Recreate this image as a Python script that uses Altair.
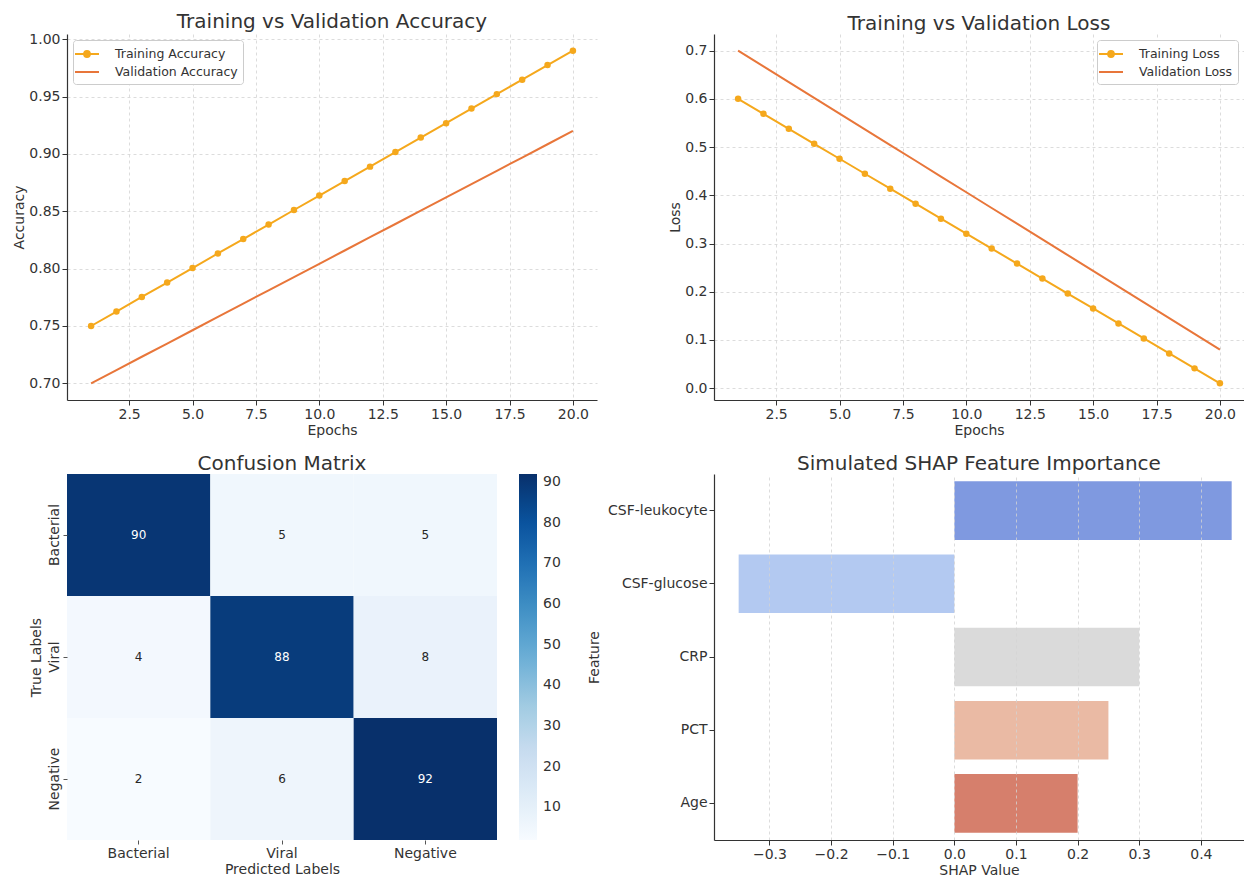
import altair as alt
import pandas as pd

# ---------------- data ----------------
epochs = list(range(1, 21))
train_acc = [0.7500, 0.7626, 0.7753, 0.7879, 0.8005, 0.8132, 0.8258, 0.8384, 0.8511, 0.8637,
             0.8763, 0.8889, 0.9016, 0.9142, 0.9268, 0.9395, 0.9521, 0.9647, 0.9774, 0.9900]
val_acc = [0.7000, 0.7116, 0.7232, 0.7347, 0.7463, 0.7579, 0.7695, 0.7811, 0.7926, 0.8042,
           0.8158, 0.8274, 0.8389, 0.8505, 0.8621, 0.8737, 0.8853, 0.8968, 0.9084, 0.9200]
train_loss = [0.6000, 0.5689, 0.5379, 0.5068, 0.4758, 0.4447, 0.4137, 0.3826, 0.3516, 0.3205,
              0.2895, 0.2584, 0.2274, 0.1963, 0.1653, 0.1342, 0.1032, 0.0721, 0.0411, 0.0100]
val_loss = [0.7000, 0.6674, 0.6347, 0.6021, 0.5695, 0.5368, 0.5042, 0.4716, 0.4389, 0.4063,
            0.3737, 0.3411, 0.3084, 0.2758, 0.2432, 0.2105, 0.1779, 0.1453, 0.1126, 0.0800]

classes = ["Bacterial", "Viral", "Negative"]
cm_rows = [[90, 5, 5], [4, 88, 8], [2, 6, 92]]

features = ["CSF-leukocyte", "CSF-glucose", "CRP", "PCT", "Age"]
shap_vals = [0.45, -0.35, 0.30, 0.25, 0.20]
shap_colors = ["#7f99e0", "#b3c9f1", "#dadada", "#eabaa4", "#d67f6c"]

epoch_ticks = [2.5, 5.0, 7.5, 10.0, 12.5, 15.0, 17.5, 20.0]
acc_ticks = [0.70, 0.75, 0.80, 0.85, 0.90, 0.95, 1.00]
loss_ticks = [0.0, 0.1, 0.2, 0.3, 0.4, 0.5, 0.6, 0.7]
shap_ticks = [-0.3, -0.2, -0.1, 0.0, 0.1, 0.2, 0.3, 0.4]
cbar_ticks = [10, 20, 30, 40, 50, 60, 70, 80, 90]

# matplotlib "Blues" colormap anchors, spread evenly over the colour range 2..92
blues_range = ["#f7fbff", "#deebf7", "#c6dbef", "#9ecae1", "#6baed6",
               "#4292c6", "#2171b5", "#08519c", "#08306b"]
blues_domain = [2, 13.25, 24.5, 35.75, 47, 58.25, 69.5, 80.75, 92]

# ---------------- style ----------------
FONT = "DejaVu Sans"
TXT = "#333333"
TRAIN_C = "#f5a81c"
VAL_C = "#e8763a"
GRID = "#d3d3d3"

LEG_MARKER = ("M-1.5,0L1.5,0"
              "M-0.36,0A0.36,0.36 0 1,0 0.36,0A0.36,0.36 0 1,0 -0.36,0"
              "M-0.14,0A0.14,0.14 0 1,0 0.14,0A0.14,0.14 0 1,0 -0.14,0")
LEG_LINE = "M-1.5,0L1.5,0"

W, H = 530, 366
TITLE_OFF = 0


def line_panel(train, val, names, ytitle, title, ydomain, yticks, yfmt, orient):
    df = pd.DataFrame({
        "Epoch": epochs + epochs,
        "Value": train + val,
        "Series": [names[0]] * len(epochs) + [names[1]] * len(epochs),
    })
    base = alt.Chart(df)
    x = alt.X("Epoch:Q",
              scale=alt.Scale(domain=[0.05, 20.95], nice=False, zero=False),
              axis=alt.Axis(values=epoch_ticks, format=".1f", title="Epochs"))
    y = alt.Y("Value:Q",
              scale=alt.Scale(domain=ydomain, nice=False, zero=False),
              axis=alt.Axis(values=yticks, format=yfmt, title=ytitle))
    tr = base.transform_filter(alt.datum.Series == names[0])
    va = base.transform_filter(alt.datum.Series == names[1])
    val_line = va.mark_line(color=VAL_C, strokeWidth=2).encode(x=x, y=y)
    tr_line = tr.mark_line(color=TRAIN_C, strokeWidth=2).encode(x=x, y=y)
    tr_pts = tr.mark_point(filled=True, color=TRAIN_C, size=42, opacity=1).encode(x=x, y=y)
    leg = alt.Legend(title=None, orient=orient, offset=6, fillColor="white",
                     strokeColor="#cccccc", cornerRadius=3, padding=5,
                     labelFontSize=12.5, labelFont=FONT, labelColor=TXT,
                     symbolSize=256, symbolStrokeWidth=2, symbolFillColor=TRAIN_C,
                     symbolOpacity=1, labelOffset=19, rowPadding=2)
    legend_layer = base.transform_filter("false").mark_point(filled=False, strokeWidth=2).encode(
        x=x, y=y,
        color=alt.Color("Series:N", scale=alt.Scale(domain=names, range=[TRAIN_C, VAL_C]), legend=leg),
        shape=alt.Shape("Series:N", scale=alt.Scale(domain=names, range=[LEG_MARKER, LEG_LINE]), legend=leg),
    )
    return alt.layer(val_line, tr_line, tr_pts, legend_layer).properties(
        width=W, height=H, title=alt.TitleParams(title, fontSize=20, fontWeight="normal",
                                                  color=TXT, font=FONT, offset=TITLE_OFF))


acc = line_panel(train_acc, val_acc, ["Training Accuracy", "Validation Accuracy"],
                 "Accuracy", "Training vs Validation Accuracy", [0.6855, 1.0045],
                 acc_ticks, ".2f", "top-left")
loss = line_panel(train_loss, val_loss, ["Training Loss", "Validation Loss"],
                  "Loss", "Training vs Validation Loss", [-0.0245, 0.7345],
                  loss_ticks, ".1f", "top-right")

# ---------------- confusion matrix ----------------
cm_records = []
for i, t in enumerate(classes):
    for j, p in enumerate(classes):
        cm_records.append({"True": t, "Predicted": p, "Count": cm_rows[i][j]})
cm_df = pd.DataFrame(cm_records)

hx = alt.X("Predicted:N", sort=classes, scale=alt.Scale(paddingInner=0, paddingOuter=0),
           axis=alt.Axis(title="Predicted Labels", labelAngle=0, domain=False, grid=False,
                         tickSize=4, tickColor="#555555", labelPadding=2))
hy = alt.Y("True:N", sort=classes, scale=alt.Scale(paddingInner=0, paddingOuter=0),
           axis=alt.Axis(title="True Labels", labelAngle=-90, domain=False, grid=False,
                         tickSize=4, tickColor="#555555", labelPadding=2, titlePadding=4))
heat = alt.Chart(cm_df).mark_rect().encode(
    x=hx, y=hy,
    color=alt.Color("Count:Q",
                    scale=alt.Scale(domain=blues_domain, range=blues_range, interpolate="rgb"),
                    legend=alt.Legend(title=None, orient="right", offset=22, direction="vertical",
                                      gradientLength=H, gradientThickness=18,
                                      values=cbar_ticks, labelFontSize=14, labelColor=TXT,
                                      labelFont=FONT, labelOffset=6, gradientStrokeWidth=0)),
)
heat_text = alt.Chart(cm_df).mark_text(fontSize=12, font=FONT).encode(
    x=hx, y=hy, text="Count:Q",
    color=alt.condition(alt.datum.Count > 50, alt.value("white"), alt.value("#262626")),
)
cmat = alt.layer(heat, heat_text).properties(
    width=430, height=H,
    title=alt.TitleParams("Confusion Matrix", fontSize=20, fontWeight="normal", color=TXT,
                          font=FONT, offset=TITLE_OFF))

# ---------------- SHAP ----------------
shap_df = pd.DataFrame({"Feature": features, "SHAP": shap_vals, "Color": shap_colors})
shap = alt.Chart(shap_df).mark_bar().encode(
    y=alt.Y("Feature:N", sort=features,
            scale=alt.Scale(paddingInner=0.2, paddingOuter=0.1),
            axis=alt.Axis(title="Feature", grid=False, titlePadding=6)),
    x=alt.X("SHAP:Q", scale=alt.Scale(domain=[-0.39, 0.47], nice=False, zero=False),
            axis=alt.Axis(values=shap_ticks, format=".1f", title="SHAP Value", grid=True,
                          zindex=1)),
    color=alt.Color("Color:N", scale=None),
).properties(width=W, height=H,
             title=alt.TitleParams("Simulated SHAP Feature Importance", fontSize=20,
                                   fontWeight="normal", color=TXT, font=FONT, offset=TITLE_OFF))

chart = alt.concat(
    acc, loss, cmat, shap, columns=2,
    spacing=alt.RowColnumber(row=74, column=117), bounds="flush",
).resolve_scale(
    color="independent", shape="independent"
).resolve_legend(
    color="independent", shape="independent"
).properties(
    padding={"left": 4, "top": 4, "right": 0, "bottom": 0}
).configure(
    font=FONT,
).configure_view(
    stroke=None
).configure_axis(
    labelFont=FONT, titleFont=FONT, labelFontSize=14, titleFontSize=14,
    labelColor=TXT, titleColor=TXT, titleFontWeight="normal",
    domainColor="#333333", domainWidth=1.2, tickColor="#333333", tickSize=5,
    tickWidth=1, labelPadding=2, titlePadding=2,
    gridColor=GRID, gridDash=[3, 3], gridWidth=0.8,
)

chart.save("out.html", embed_options={"renderer": "svg", "actions": False})
